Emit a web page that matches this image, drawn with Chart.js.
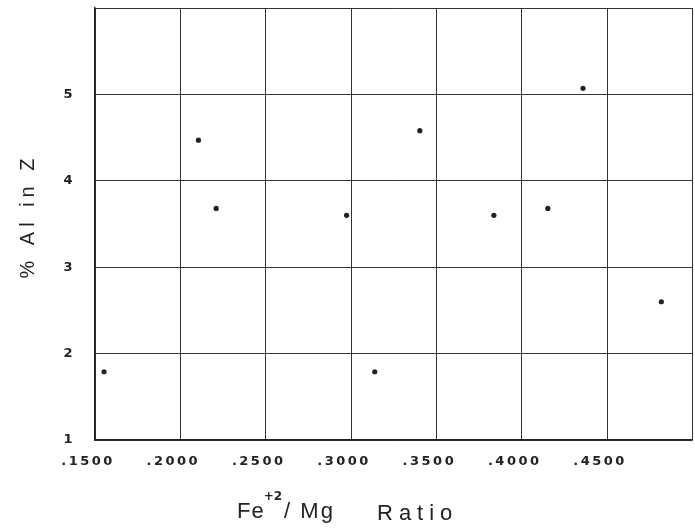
<!DOCTYPE html>
<html>
<head>
<meta charset="utf-8">
<script src="https://cdn.jsdelivr.net/npm/chart.js@4.4.1/dist/chart.umd.min.js"></script>
<style>
html, body { margin: 0; padding: 0; background: #fff; }
</style>
</head>
<body>
<canvas id="alChart" width="695" height="528"></canvas>
<script>
// values
var feMgRatio = [0.1553, 0.2106, 0.2210, 0.2974, 0.3403, 0.3837, 0.4153, 0.4359, 0.3139, 0.4818];
var alInZ     = [1.79,   4.47,   3.68,   3.60,   4.58,   3.60,   3.68,   5.07,   1.79,   2.60];

var xMin = 0.15, xMax = 0.50, xStep = 0.05;
var yMin = 1, yMax = 6, yStep = 1;

var ink = '#222';

function xLabel(v) {
	if (Math.abs(v - xMax) < 1e-9) return '';
	return '.' + v.toFixed(4).slice(2);
}
function yLabel(v) {
	if (v === yMax) return '';
	return String(v);
}

// drop the room chart.js keeps for end labels, layout padding decides instead
function noEdgePad(s) {
	s.paddingTop = 0;
	s.paddingBottom = 0;
	s.paddingLeft = 0;
	s.paddingRight = 0;
}

// plotter-style spacing on all canvas text
var spacing = {
	id: 'spacing',
	beforeDraw: function(chart) {
		chart.ctx.letterSpacing = '2.5px';
	}
};

// axis titles drawn by hand so the superscript and the odd offsets fit
var titles = {
	id: 'titles',
	afterDraw: function(chart) {
		var ctx = chart.ctx, a = chart.chartArea;
		ctx.save();
		ctx.fillStyle = ink;
		ctx.textBaseline = 'alphabetic';
		ctx.textAlign = 'left';

		var x = a.left + 142, base = a.bottom + 78;
		ctx.letterSpacing = '1px';
		ctx.font = '22px "Liberation Sans"';
		ctx.fillText('Fe', x, base);
		x += ctx.measureText('Fe').width - 1;
		ctx.font = 'bold 12px "DejaVu Sans"';
		ctx.letterSpacing = '0px';
		ctx.fillText('+2', x, base - 18);
		x += ctx.measureText('+2').width + 2;
		ctx.font = '22px "Liberation Sans"';
		ctx.letterSpacing = '2px';
		ctx.fillText('/ Mg', x, base);
		ctx.letterSpacing = '6px';
		ctx.fillText('Ratio', a.left + 282, base + 2);

		ctx.translate(34, (a.top + a.bottom) / 2 - 8);
		ctx.rotate(-Math.PI / 2);
		ctx.textAlign = 'center';
		ctx.font = '20px "Liberation Sans"';
		ctx.letterSpacing = '5px';
		ctx.fillText('% Al in Z', 0, 0);
		ctx.restore();
	}
};

var points = feMgRatio.map(function(v, i) { return {x: v, y: alInZ[i]}; });

new Chart('alChart', {
	type: 'scatter',
	data: {
		datasets: [{
			data: points,
			pointRadius: 2.6,
			pointHoverRadius: 2.6,
			pointBackgroundColor: ink,
			pointBorderWidth: 0
		}]
	},
	options: {
		responsive: false,
		animation: false,
		devicePixelRatio: 1,
		layout: {padding: {top: 8, right: 2, left: 0, bottom: 0}},
		plugins: {legend: {display: false}, tooltip: {enabled: false}},
		scales: {
			x: {
				type: 'linear',
				min: xMin, max: xMax,
				afterFit: function(s) { s.height = 88; noEdgePad(s); },
				grid: {color: '#333', lineWidth: 1, drawTicks: false},
				border: {color: '#222', width: 1.5},
				ticks: {
					stepSize: xStep,
					padding: 14,
					labelOffset: -7,
					color: ink,
					font: {family: 'DejaVu Sans', size: 13, weight: 'bold'},
					maxRotation: 0,
					autoSkip: false,
					callback: xLabel
				}
			},
			y: {
				min: yMin, max: yMax,
				afterFit: function(s) { s.width = 95; noEdgePad(s); },
				grid: {color: '#333', lineWidth: 1, drawTicks: false},
				border: {color: '#222', width: 1.5},
				ticks: {
					stepSize: yStep,
					padding: 20,
					color: ink,
					font: {family: 'DejaVu Sans', size: 13, weight: 'bold'},
					callback: yLabel
				}
			}
		}
	},
	plugins: [spacing, titles]
});
</script>
</body>
</html>
